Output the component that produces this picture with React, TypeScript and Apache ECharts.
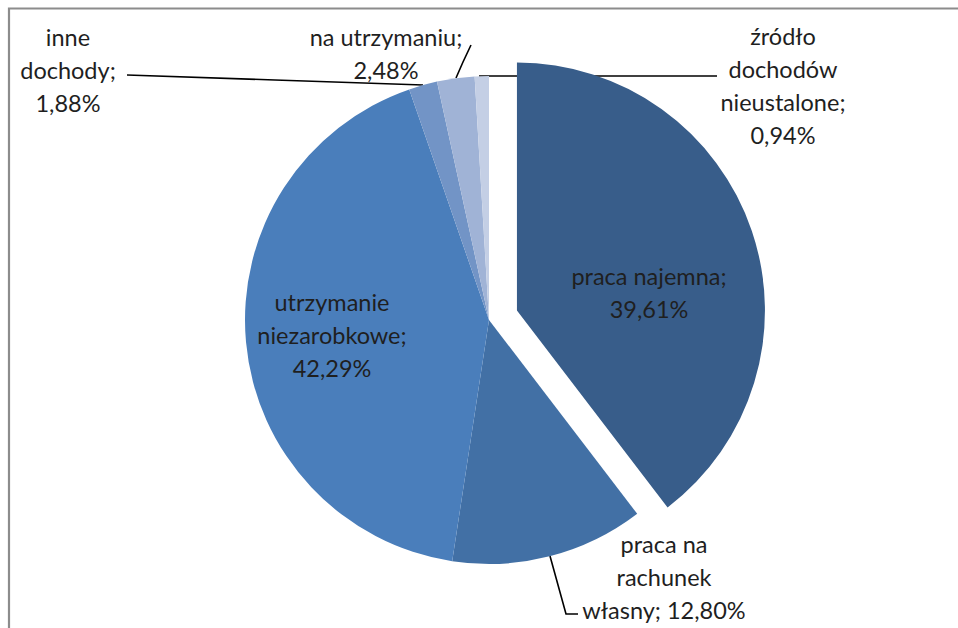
import React, { useEffect, useRef } from "react";
import * as echarts from "echarts";

// Categories (clockwise from 12 o'clock) and their shares in %
const categories: string[] = [
  "praca najemna",
  "praca na rachunek własny",
  "utrzymanie niezarobkowe",
  "inne dochody",
  "na utrzymaniu",
  "źródło dochodów nieustalone",
];
const shares: number[] = [39.61, 12.8, 42.29, 1.88, 2.48, 0.94];
// How each category's label is wrapped ({v} = formatted value)
const labelTemplates: string[] = [
  "praca najemna;\n{v}",
  "praca na\nrachunek\nwłasny; {v}",
  "utrzymanie\nniezarobkowe;\n{v}",
  "inne\ndochody;\n{v}",
  "na utrzymaniu;\n{v}",
  "źródło\ndochodów\nnieustalone;\n{v}",
];
const colors: string[] = ["#385D8A", "#4270A5", "#4A7EBB", "#7294C6", "#A0B3D6", "#C4CFE5"];

// Label placement (layout only)
const labelPos: { x: number; y: number; line?: number[][] }[] = [
  { x: 649, y: 292 },
  { x: 664, y: 577, line: [[550, 556], [566, 614], [578, 614]] },
  { x: 332, y: 335 },
  { x: 68, y: 70, line: [[423, 85], [275, 80], [127, 75]] },
  { x: 386, y: 53, line: [[456, 78], [463, 62], [471, 45]] },
  { x: 783, y: 85, line: [[479, 76], [600, 76], [717, 76]] },
];

const fmt = (v: number) => v.toFixed(2).replace(".", ",") + "%";
const CLEAR = "rgba(0,0,0,0)";

const CX = 489;
const CY = 320;
const EXPLODE = 29.5;

export default function App() {
  const ref = useRef<HTMLDivElement>(null);
  useEffect(() => {
    if (!ref.current) return;
    const chart = echarts.init(ref.current, undefined, { renderer: "svg" });

    const labelBase = {
      show: true,
      fontFamily: "Lato",
      fontSize: 23.5,
      lineHeight: 33,
      color: "#1f1f1f",
      align: "center",
    };
    const layoutFor = (idx: number) => {
      const lp = labelPos[idx];
      const r: any = { x: lp.x, y: lp.y, align: "center", verticalAlign: "middle" };
      if (lp.line) r.labelLinePoints = lp.line;
      return r;
    };

    const total = shares.reduce((a, b) => a + b, 0);
    const mid = ((shares[0] / total) * Math.PI * 2) / 2; // bisector, clockwise from 12 o'clock
    const ex = CX + EXPLODE * Math.sin(mid);
    const ey = CY - EXPLODE * Math.cos(mid);

    // main pie: every slice except the exploded first one
    const mainData = categories.map((name, i) => ({
      name,
      value: shares[i],
      itemStyle: { color: i === 0 ? CLEAR : colors[i] },
      label: { show: i !== 0 },
      labelLine: { show: !!labelPos[i].line },
    }));
    const restSum = total - shares[0];
    // exploded slice
    const explodedData = [
      {
        name: categories[0],
        value: shares[0],
        itemStyle: { color: colors[0] },
        label: { show: true },
        labelLine: { show: false },
      },
      {
        name: "rest",
        value: restSum,
        itemStyle: { color: CLEAR },
        label: { show: false },
        labelLine: { show: false },
      },
    ];

    chart.setOption({
      animation: false,
      graphic: [
        {
          type: "rect",
          z: -10,
          shape: { x: 9, y: 8.5, width: 1000, height: 700 },
          style: { fill: "none", stroke: "#8c8c8c", lineWidth: 2.2 },
        },
      ],
      series: [
        {
          type: "pie",
          center: [CX, CY],
          radius: 244,
          startAngle: 90,
          clockwise: true,
          avoidLabelOverlap: false,
          silent: true,
          itemStyle: { borderWidth: 0 },
          emphasis: { disabled: true },
          label: {
            ...labelBase,
            position: "outside",
            formatter: (p: any) => labelTemplates[p.dataIndex].replace("{v}", fmt(p.value)),
          },
          labelLine: { show: true, lineStyle: { color: "#000", width: 1.6 } },
          labelLayout: (p: any) => layoutFor(p.dataIndex),
          data: mainData,
        },
        {
          type: "pie",
          center: [ex, ey],
          radius: 248,
          startAngle: 90,
          clockwise: true,
          avoidLabelOverlap: false,
          silent: true,
          itemStyle: { borderWidth: 0 },
          emphasis: { disabled: true },
          label: {
            ...labelBase,
            position: "inside",
            formatter: (p: any) => labelTemplates[0].replace("{v}", fmt(p.value)),
          },
          labelLayout: (p: any) => (p.dataIndex === 0 ? layoutFor(0) : {}),
          data: explodedData,
        },
      ],
    });
    return () => chart.dispose();
  }, []);
  return (
    <div
      ref={ref}
      style={{ position: "fixed", left: 0, top: 0, width: 958, height: 628, background: "#fff" }}
    />
  );
}
